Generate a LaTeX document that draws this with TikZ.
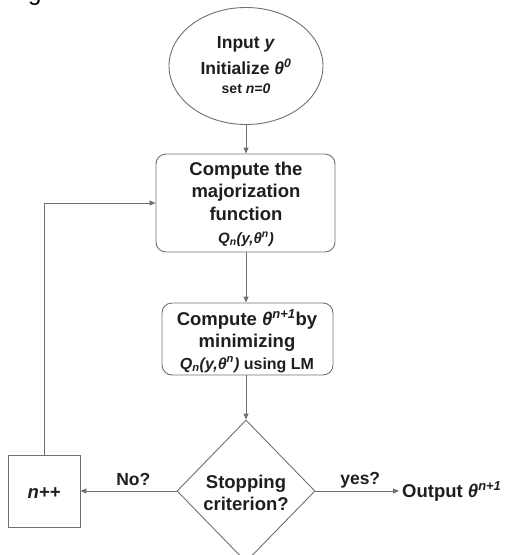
\documentclass[tikz,border=0pt]{standalone}
\usepackage{fontspec}
\setmainfont{Liberation Sans}
\usetikzlibrary{shapes.geometric,arrows.meta}
\definecolor{linegray}{HTML}{707070}
\definecolor{textdark}{HTML}{1E1E1E}
\newcommand{\fsz}[1]{\fontsize{#1}{#1}\selectfont}
\begin{document}
\begin{tikzpicture}[x=1pt,y=-1pt,
  shapeline/.style={draw=linegray,line width=0.9pt,inner sep=0pt},
  conn/.style={draw=linegray,line width=0.9pt},
  arr/.style={conn,-{Triangle[length=6pt,width=5pt]}},
  lbl/.style={anchor=base,inner sep=0pt,text=textdark,font=\bfseries\fsz{18.5}},
  ]
\useasboundingbox (0,0) rectangle (509,555);
\clip (0,0) rectangle (509,555);

% partial heading letter cut by the top edge
\node[anchor=base west,inner sep=0pt,text=black,font=\fsz{24}] (g) at (28,0) {g};

% shapes
\node[shapeline,ellipse,minimum width=154pt,minimum height=117pt] (start) at (246,66) {};
\node[shapeline,rectangle,rounded corners=10pt,minimum width=179pt,minimum height=98pt] (maj) at (245.5,203) {};
\node[shapeline,rectangle,rounded corners=10pt,minimum width=171pt,minimum height=72pt] (mini) at (247.5,339) {};
\node[shapeline,diamond,minimum width=138pt,minimum height=142pt] (dec) at (246,491) {};
\node[shapeline,rectangle,minimum width=72pt,minimum height=72pt] (inc) at (44,491) {};

% texts
\node[lbl,font=\bfseries\fsz{17.5}] (s1) at (246,48) {Input \textit{y}};
\node[lbl,font=\bfseries\fsz{17.5}] (s2) at (246,74) {Initialize \textit{θ}\textsuperscript{\textit{0}}};
\node[lbl,font=\bfseries\fsz{14}] (s3) at (246,93) {set \textit{n=0}};

\node[lbl] (m1) at (246,175) {Compute the};
\node[lbl] (m2) at (246,197) {majorization};
\node[lbl] (m3) at (246,220) {function};
\node[lbl,font=\bfseries\fsz{15}] (m4) at (246,243) {\textit{Q\textsubscript{n}(y,θ\textsuperscript{n})}};

\node[lbl] (n1) at (247,325) {Compute \textit{θ}\textsuperscript{\textit{n+1}}by};
\node[lbl] (n2) at (247,347) {minimizing};
\node[lbl,font=\bfseries\fsz{16}] (n3) at (247,369) {\textit{Q\textsubscript{n}(y,θ\textsuperscript{n})} using LM};

\node[lbl] (d1) at (246,488) {Stopping};
\node[lbl] (d2) at (246,510) {criterion?};

\node[lbl] (i1) at (44,498) {\textit{n++}};

\node[lbl,anchor=base west,inner xsep=3pt] (out) at (399,497) {Output \textit{θ}\textsuperscript{\textit{n+1}}};

% connectors
\draw[arr] (start.south) -- (start.south |- maj.north);
\draw[arr] (maj.south -| start.south) -- (start.south |- mini.north);
\draw[arr] (mini.south -| dec.north) -- (dec.north);
\draw[arr] (dec.west) -- node[lbl,font=\bfseries\fsz{17.5},pos=0.45,yshift=6pt] (no) {No?} (inc.east);
\draw[arr] (dec.east) -- node[lbl,font=\bfseries\fsz{17.5},pos=0.536,yshift=7pt] (yes) {yes?} (dec.east -| out.west);
\draw[arr] (inc.north) |- (maj.west);
\end{tikzpicture}
\end{document}
